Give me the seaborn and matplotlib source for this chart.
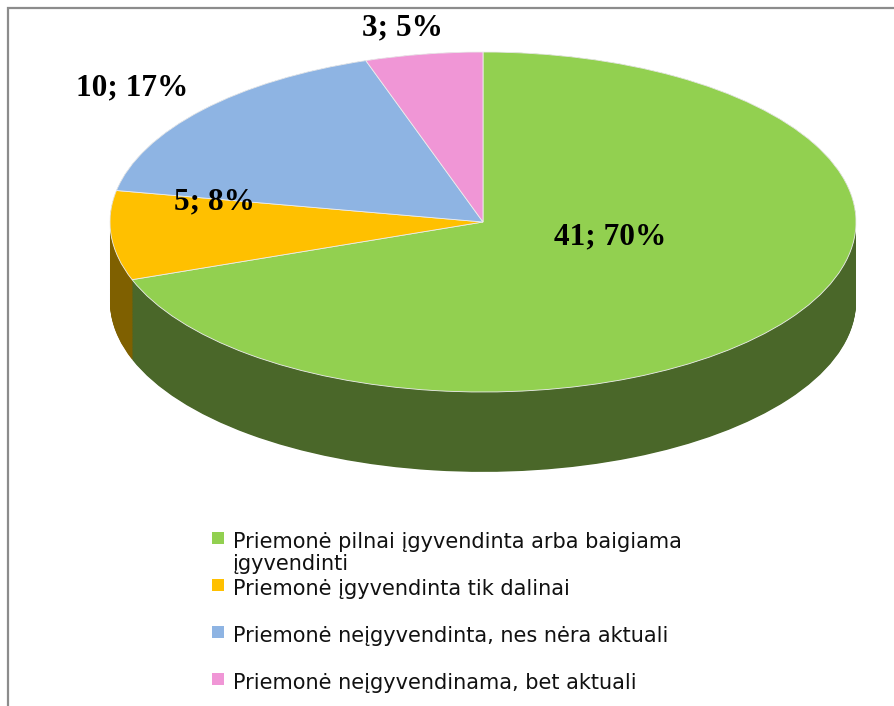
import matplotlib
matplotlib.use("Agg")
import matplotlib.pyplot as plt
import seaborn as sns
from matplotlib.patches import Rectangle

# duomenys
categories = [
    "Priemonė pilnai įgyvendinta arba baigiama\nįgyvendinti",
    "Priemonė įgyvendinta tik dalinai",
    "Priemonė neįgyvendinta, nes nėra aktuali",
    "Priemonė neįgyvendinama, bet aktuali",
]
counts = [41, 5, 10, 3]
percents = [70, 8, 17, 5]
top_colors = ["#92D050", "#FFC000", "#8EB4E3", "#F096D6"]
side_colors = ["#4A6729", "#7F6000", "#466A91", "#9A4F86"]

sns.set_theme(style="white")
plt.rcParams["font.family"] = ["DejaVu Sans"]

W, H = 895, 706
fig = plt.figure(figsize=(W / 100, H / 100), dpi=100)

# pie centre / radii in pixels (top face ellipse)
cx, cy = 483, 222
rx, ry = 373, 170
depth = 0.47
xl, yl_lo, yl_hi = 1.15, -1.6, 1.25
ax = fig.add_axes([(cx - xl * rx) / W, (H - cy + yl_lo * ry) / H,
                   2 * xl * rx / W, (yl_hi - yl_lo) * ry / H])

# side of the cylinder: stacked pies, bottom first
n_layers = 110
for k in range(n_layers):
    off = -depth * (1 - k / (n_layers - 1))
    ax.pie(counts, colors=side_colors, startangle=90, counterclock=False,
           center=(0, off), radius=1, wedgeprops=dict(linewidth=0))

# top face
wedges, _ = ax.pie(counts, colors=top_colors, startangle=90, counterclock=False,
                   center=(0, 0), radius=1,
                   wedgeprops=dict(linewidth=0.6, edgecolor="#eeeeee"))

ax.set_aspect("auto")
ax.set_xlim(-xl, xl)
ax.set_ylim(yl_lo, yl_hi)
ax.axis("off")

# data labels
label_pos = [(0.34, -0.09), (-0.72, 0.12), (-0.94, 0.79), (-0.215, 1.14)]
for (lx, ly), c, p in zip(label_pos, counts, percents):
    ax.text(lx, ly, f"{c}; {p}%", ha="center", va="center", fontsize=22.5,
            fontweight="bold", family="Liberation Serif", color="black")

# legend (Excel style: fixed row step, wrapped text overflows)
base0, step, line_step = 548, 47, 22
for i, (lab, col) in enumerate(zip(categories, top_colors)):
    yb = base0 + i * step
    fig.patches.append(Rectangle((212 / W, 1 - (yb - 4) / H), 12 / W, 12 / H,
                                 transform=fig.transFigure, facecolor=col,
                                 edgecolor="none"))
    for j, line in enumerate(lab.split("\n")):
        fig.text(233 / W, 1 - (yb + j * line_step) / H, line, ha="left",
                 va="baseline", fontsize=15, color="#111111")

# chart frame
fig.patches.append(Rectangle((8 / W, -0.1), 1.2, 1 - 8 / H + 0.1,
                             transform=fig.transFigure, fill=False,
                             edgecolor="#8c8c8c", linewidth=1.6))

fig.savefig("out.png", dpi=100, facecolor="white")
